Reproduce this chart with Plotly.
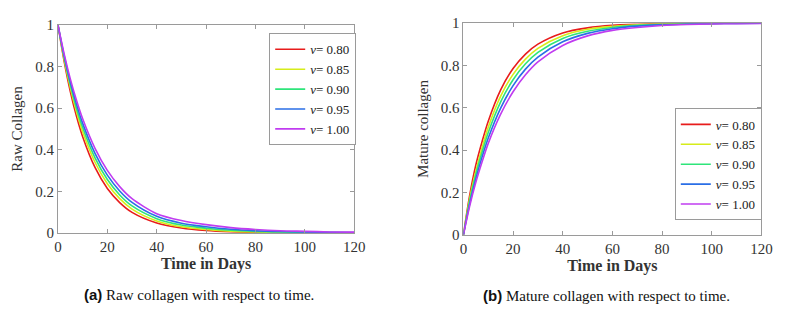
import plotly.graph_objects as go

t = [0, 2.5, 5, 7.5, 10, 15, 20, 25, 30, 40, 50, 60, 70, 80, 90, 100, 110, 120]
nu_labels = ["0.80", "0.85", "0.90", "0.95", "1.00"]
colors = ["#e81c1c", "#d6ec1a", "#2ee57a", "#2a6ee6", "#c03cf0"]

raw_080 = [1, 0.825, 0.680, 0.561, 0.463, 0.315, 0.214, 0.146, 0.099, 0.048, 0.024, 0.012, 0.006, 0.003, 0.0015, 0.001, 0.0005, 0.0003]
raw_085 = [1, 0.835, 0.698, 0.583, 0.487, 0.340, 0.237, 0.165, 0.115, 0.058, 0.030, 0.017, 0.009, 0.005, 0.003, 0.002, 0.001, 0.0006]
raw_090 = [1, 0.844, 0.712, 0.600, 0.507, 0.361, 0.257, 0.183, 0.130, 0.069, 0.038, 0.023, 0.013, 0.008, 0.005, 0.003, 0.002, 0.001]
raw_095 = [1, 0.852, 0.726, 0.619, 0.527, 0.383, 0.278, 0.202, 0.147, 0.080, 0.047, 0.030, 0.018, 0.011, 0.007, 0.005, 0.003, 0.002]
raw_100 = [1, 0.861, 0.741, 0.638, 0.549, 0.407, 0.301, 0.223, 0.165, 0.093, 0.060, 0.040, 0.026, 0.017, 0.011, 0.008, 0.005, 0.004]

mat_080 = [0, 0.185, 0.330, 0.440, 0.537, 0.685, 0.786, 0.854, 0.901, 0.954, 0.978, 0.990, 0.995, 0.998, 0.999, 1.0, 1.0, 1.0]
mat_085 = [0, 0.170, 0.300, 0.410, 0.508, 0.655, 0.758, 0.830, 0.881, 0.941, 0.971, 0.985, 0.993, 0.996, 0.998, 0.999, 1.0, 1.0]
mat_090 = [0, 0.160, 0.285, 0.390, 0.483, 0.628, 0.733, 0.808, 0.862, 0.928, 0.962, 0.980, 0.990, 0.995, 0.997, 0.999, 1.0, 1.0]
mat_095 = [0, 0.145, 0.265, 0.367, 0.457, 0.599, 0.705, 0.783, 0.840, 0.912, 0.952, 0.974, 0.986, 0.992, 0.996, 0.998, 0.999, 1.0]
mat_100 = [0, 0.135, 0.248, 0.344, 0.432, 0.570, 0.676, 0.756, 0.817, 0.895, 0.940, 0.966, 0.980, 0.989, 0.994, 0.997, 0.998, 0.999]

raw_series = [raw_080, raw_085, raw_090, raw_095, raw_100]
mat_series = [mat_080, mat_085, mat_090, mat_095, mat_100]

x_ticks = [0, 20, 40, 60, 80, 100, 120]
y_ticks = [0, 0.2, 0.4, 0.6, 0.8, 1]
y_tick_text = ["0", "0.2", "0.4", "0.6", "0.8", "1"]

SERIF = "Liberation Serif, Times New Roman, serif"

fig = go.Figure()
for lab, col, ys in zip(nu_labels, colors, raw_series):
    fig.add_trace(go.Scatter(x=t, y=ys, mode="lines", name="<i>ν</i>= " + lab,
                             line=dict(color=col, width=1.6, shape="spline", smoothing=0.8),
                             xaxis="x", yaxis="y", legend="legend"))
for lab, col, ys in zip(nu_labels, colors, mat_series):
    fig.add_trace(go.Scatter(x=t, y=ys, mode="lines", name="<i>ν</i>= " + lab,
                             line=dict(color=col, width=1.6, shape="spline", smoothing=0.8),
                             xaxis="x2", yaxis="y2", legend="legend2"))

axis_common = dict(showline=True, linecolor="#9a9a9a", linewidth=1, mirror="ticks",
                   ticks="inside", ticklen=4, tickcolor="#9a9a9a", showgrid=False,
                   zeroline=False, tickfont=dict(family=SERIF, size=15, color="#333"))
xtitle_font = dict(family=SERIF, size=16, color="#333")
ytitle_font = dict(family=SERIF, size=15, color="#333")
legend_common = dict(xanchor="left", bgcolor="white", bordercolor="#9a9a9a", borderwidth=1,
                     itemwidth=30, tracegroupgap=0, font=dict(family=SERIF, size=13, color="#222"))

fig.update_layout(
    width=795, height=314,
    margin=dict(l=0, r=0, t=0, b=0),
    paper_bgcolor="white", plot_bgcolor="white",
    font=dict(family=SERIF),
    showlegend=True,
    xaxis=dict(domain=[0.0692, 0.449], range=[0, 120], tickvals=x_ticks, anchor="y",
               title=dict(text="<b>Time in Days</b>", font=xtitle_font, standoff=0),
               **axis_common),
    yaxis=dict(domain=[0.245, 0.943], range=[0, 1], tickvals=y_ticks, ticktext=y_tick_text, anchor="x",
               title=dict(text="Raw Collagen", font=ytitle_font, standoff=8),
               **axis_common),
    xaxis2=dict(domain=[0.589, 0.971], range=[0, 120], tickvals=x_ticks, anchor="y2",
                title=dict(text="<b>Time in Days</b>", font=xtitle_font, standoff=0),
                **axis_common),
    yaxis2=dict(domain=[0.239, 0.949], range=[0, 1], tickvals=y_ticks, ticktext=y_tick_text, anchor="x2",
                title=dict(text="Mature collagen", font=ytitle_font, standoff=8),
                **axis_common),
    legend=dict(x=0.340, y=0.915, yanchor="top", **legend_common),
    legend2=dict(x=0.860, y=0.287, yanchor="bottom", **legend_common),
    annotations=[
        dict(text="<b><span style='font-family:Liberation Sans'>(a)</span></b> Raw collagen with respect to time.",
             x=199 / 795, y=1 - 302 / 314, xref="paper", yref="paper", showarrow=False,
             xanchor="center", yanchor="middle", font=dict(family=SERIF, size=15, color="#111")),
        dict(text="<b><span style='font-family:Liberation Sans'>(b)</span></b> Mature collagen with respect to time.",
             x=614 / 795, y=1 - 303 / 314, xref="paper", yref="paper", showarrow=False,
             xanchor="center", yanchor="middle", font=dict(family=SERIF, size=15, color="#111")),
    ],
)

fig.write_html("out.html", config={"displayModeBar": False},
               post_script="document.body.style.margin='0';document.body.style.padding='0';")
